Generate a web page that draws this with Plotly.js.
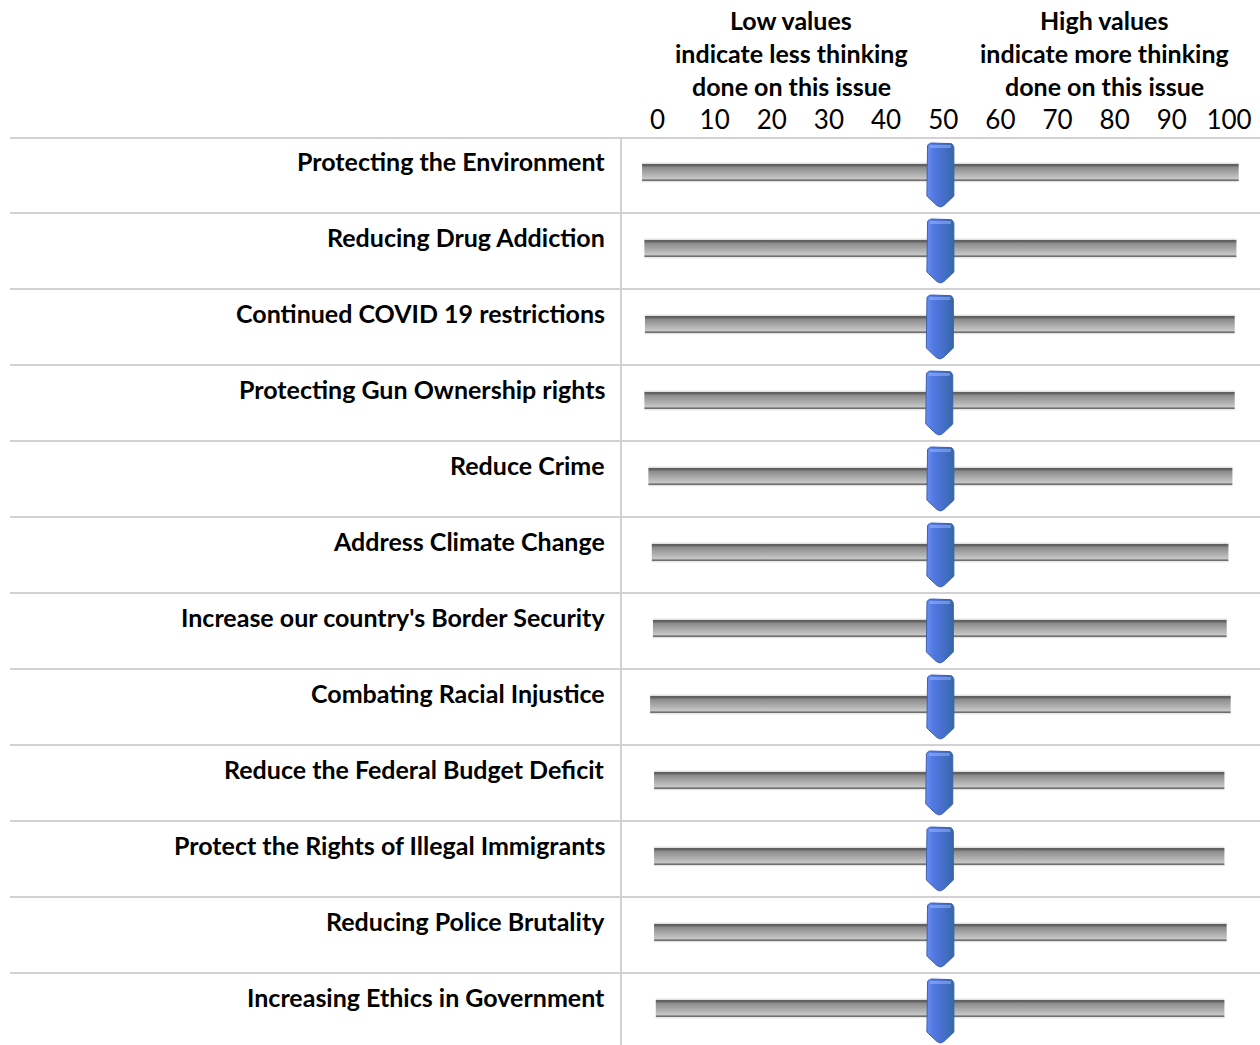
<!DOCTYPE html>
<html><head><meta charset="utf-8">
<script src="https://cdn.plot.ly/plotly-3.0.1.min.js"></script>
<style>html,body{margin:0;padding:0;background:#fff}</style>
</head><body><div id="chart" style="width:1260px;height:1045px"></div>
<script>
// ---------------- data ----------------
const categories = [
  "Protecting the Environment",
  "Reducing Drug Addiction",
  "Continued COVID 19 restrictions",
  "Protecting Gun Ownership rights",
  "Reduce Crime",
  "Address Climate Change",
  "Increase our country's Border Security",
  "Combating Racial Injustice",
  "Reduce the Federal Budget Deficit",
  "Protect the Rights of Illegal Immigrants",
  "Reducing Police Brutality",
  "Increasing Ethics in Government"
];
const scoreValues = [49.5, 49.5, 49.4, 49.3, 49.5, 49.5, 49.4, 49.5, 49.3, 49.4, 49.5, 49.5];
const rangeLow  = [-2.7, -2.3, -2.2, -2.3, -1.6, -1.0, -0.8, -1.3, -0.6, -0.6, -0.6, -0.3];
const rangeHigh = [101.7, 101.3, 101.0, 101.0, 100.6, 99.9, 99.6, 100.3, 99.2, 99.2, 99.6, 99.2];
const tickValues = [0, 10, 20, 30, 40, 50, 60, 70, 80, 90, 100];
const tickLabels = ["0", "10", "20", "30", "40", "50", "60", "70", "80", "90", "100"];
const headerLow  = ["Low values", "indicate less thinking", "done on this issue"];
const headerHigh = ["High values", "indicate more thinking", "done on this issue"];

// ---------------- layout geometry (pixels) ----------------
const W = 1260, H = 1045, MT = 137;
const X0PX = 657.5, X100PX = 1229;
const PXU = (X100PX - X0PX) / 100;     // pixels per value unit
const ROWPX = 76, ROW0PX = 175;        // row height, centre of first row
function px2x(px) { return (px - X0PX) / PXU; }
function py2y(py) { return (py - ROW0PX) / ROWPX; }
function py2paper(py) { return 1 + (MT - py) / (H - MT); }
const xRange = [px2x(0), px2x(W)];
const yRange = [py2y(H), py2y(MT)];

const FONT = "Lato, 'Open Sans', sans-serif";
const LABEL_SIZE = 25;

// ---------------- traces ----------------
const traces = [];
const trackTop = -12.5, trackBot = 7.5;   // pixel offsets from row centre
const trackScale = [
  [0.00, '#e4e4e4'], [0.05, '#e0e0e0'], [0.06, '#5c5c5c'], [0.17, '#666666'],
  [0.23, '#8a8a8a'], [0.80, '#c6c6c6'], [0.84, '#b8b8b8'], [0.86, '#6c6c6c'],
  [0.92, '#727272'], [0.94, '#e2e2e2'], [1.00, '#f2f2f2']
];
categories.forEach(function (c, i) {
  const t = i + trackTop / ROWPX, b = i + trackBot / ROWPX;
  traces.push({
    type: 'scatter', mode: 'lines', name: c,
    x: [rangeLow[i], rangeHigh[i], rangeHigh[i], rangeLow[i], rangeLow[i]],
    y: [t, t, b, b, t],
    fill: 'toself',
    fillgradient: { type: 'vertical', start: t, stop: b, colorscale: trackScale },
    line: { width: 0, color: 'rgba(0,0,0,0)' },
    hoverinfo: 'skip', showlegend: false
  });
});

// knob outline (pixel offsets from knob centre)
const HW = 13.5, KTOP = -32, KR = 5;
function knobProfile() {
  const p = [];
  p.push([-HW, 21]);
  p.push([-HW, KTOP + KR]);
  for (let a = 1; a <= 6; a++) { const t = Math.PI + a * (Math.PI / 2) / 6; p.push([-HW + KR + KR * Math.cos(t), KTOP + KR + KR * Math.sin(t)]); }
  p.push([HW - KR, KTOP]);
  for (let a = 1; a <= 6; a++) { const t = 1.5 * Math.PI + a * (Math.PI / 2) / 6; p.push([HW - KR + KR * Math.cos(t), KTOP + KR + KR * Math.sin(t)]); }
  p.push([HW, 21]);
  p.push([3.5, 30.5]);
  p.push([0, 32]);
  p.push([-3.5, 30.5]);
  p.push([-HW, 21]);
  return p;
}
const prof = knobProfile();
const knobScale = [[0, '#6a8ff5'], [0.25, '#5179e2'], [0.6, '#4770cc'], [1, '#3568a6']];
scoreValues.forEach(function (v, i) {
  traces.push({
    type: 'scatter', mode: 'lines', name: categories[i],
    x: prof.map(function (p) { return v + p[0] / PXU; }),
    y: prof.map(function (p) { return i + p[1] / ROWPX; }),
    fill: 'toself',
    fillgradient: { type: 'horizontal', start: v - HW / PXU, stop: v + HW / PXU, colorscale: knobScale },
    line: { width: 1, color: '#3c5fae' },
    hoverinfo: 'skip', showlegend: false
  });
});
// highlight band near knob top
const hx = [], hy = [];
scoreValues.forEach(function (v, i) {
  const pts = [[-HW + 3, -30], [HW - 3, -30], [HW - 3, -27], [-HW + 3, -27], [-HW + 3, -30]];
  pts.forEach(function (p) { hx.push(v + p[0] / PXU); hy.push(i + p[1] / ROWPX); });
  hx.push(null); hy.push(null);
});
traces.push({
  type: 'scatter', mode: 'lines', x: hx, y: hy, fill: 'toself',
  fillcolor: 'rgba(170,195,255,0.45)', line: { width: 0, color: 'rgba(0,0,0,0)' },
  hoverinfo: 'skip', showlegend: false
});

// ---------------- shapes (grid) ----------------
const shapes = [];
const gridColor = '#d2d2d2';
for (let r = 0; r < categories.length; r++) {
  const yy = (r === 0) ? -0.5 + 1 / ROWPX : r - 0.5;
  shapes.push({ type: 'line', layer: 'below', xref: 'x', yref: 'y', x0: px2x(10), x1: px2x(W), y0: yy, y1: yy,
    line: { color: gridColor, width: 2 } });
}
shapes.push({ type: 'line', layer: 'below', xref: 'x', yref: 'y', x0: px2x(621), x1: px2x(621), y0: -0.5, y1: yRange[0],
  line: { color: gridColor, width: 2 } });

// ---------------- annotations ----------------
const annotations = [];
categories.forEach(function (c, i) {
  annotations.push({ xref: 'x', yref: 'y', x: px2x(607), y: i, yshift: 14, xanchor: 'right', yanchor: 'middle',
    text: c, showarrow: false, font: { family: FONT, size: LABEL_SIZE, color: '#000', weight: 'bold' } });
});
const headerY = [20, 53, 86];
headerLow.forEach(function (t, k) {
  annotations.push({ xref: 'x', yref: 'paper', x: px2x(791), y: py2paper(headerY[k]), xanchor: 'center', yanchor: 'middle',
    text: t, showarrow: false, font: { family: FONT, size: LABEL_SIZE, color: '#000', weight: 'bold' } });
});
headerHigh.forEach(function (t, k) {
  annotations.push({ xref: 'x', yref: 'paper', x: px2x(1104), y: py2paper(headerY[k]), xanchor: 'center', yanchor: 'middle',
    text: t, showarrow: false, font: { family: FONT, size: LABEL_SIZE, color: '#000', weight: 'bold' } });
});

const layout = {
  width: W, height: H,
  margin: { l: 0, r: 0, t: MT, b: 0, pad: 0 },
  paper_bgcolor: '#ffffff', plot_bgcolor: '#ffffff',
  showlegend: false, hovermode: false,
  xaxis: {
    range: xRange, side: 'top', tickmode: 'array', tickvals: tickValues, ticktext: tickLabels,
    showgrid: false, zeroline: false, showline: false, ticks: '', automargin: false,
    ticklabelstandoff: 2,
    tickfont: { family: FONT, size: 26, color: '#000' }, fixedrange: true
  },
  yaxis: {
    range: yRange, showgrid: false, zeroline: false, showline: false, showticklabels: false,
    ticks: '', automargin: false, fixedrange: true
  },
  shapes: shapes,
  annotations: annotations
};

Plotly.newPlot('chart', traces, layout, { staticPlot: true, displayModeBar: false });
</script>
</body></html>
